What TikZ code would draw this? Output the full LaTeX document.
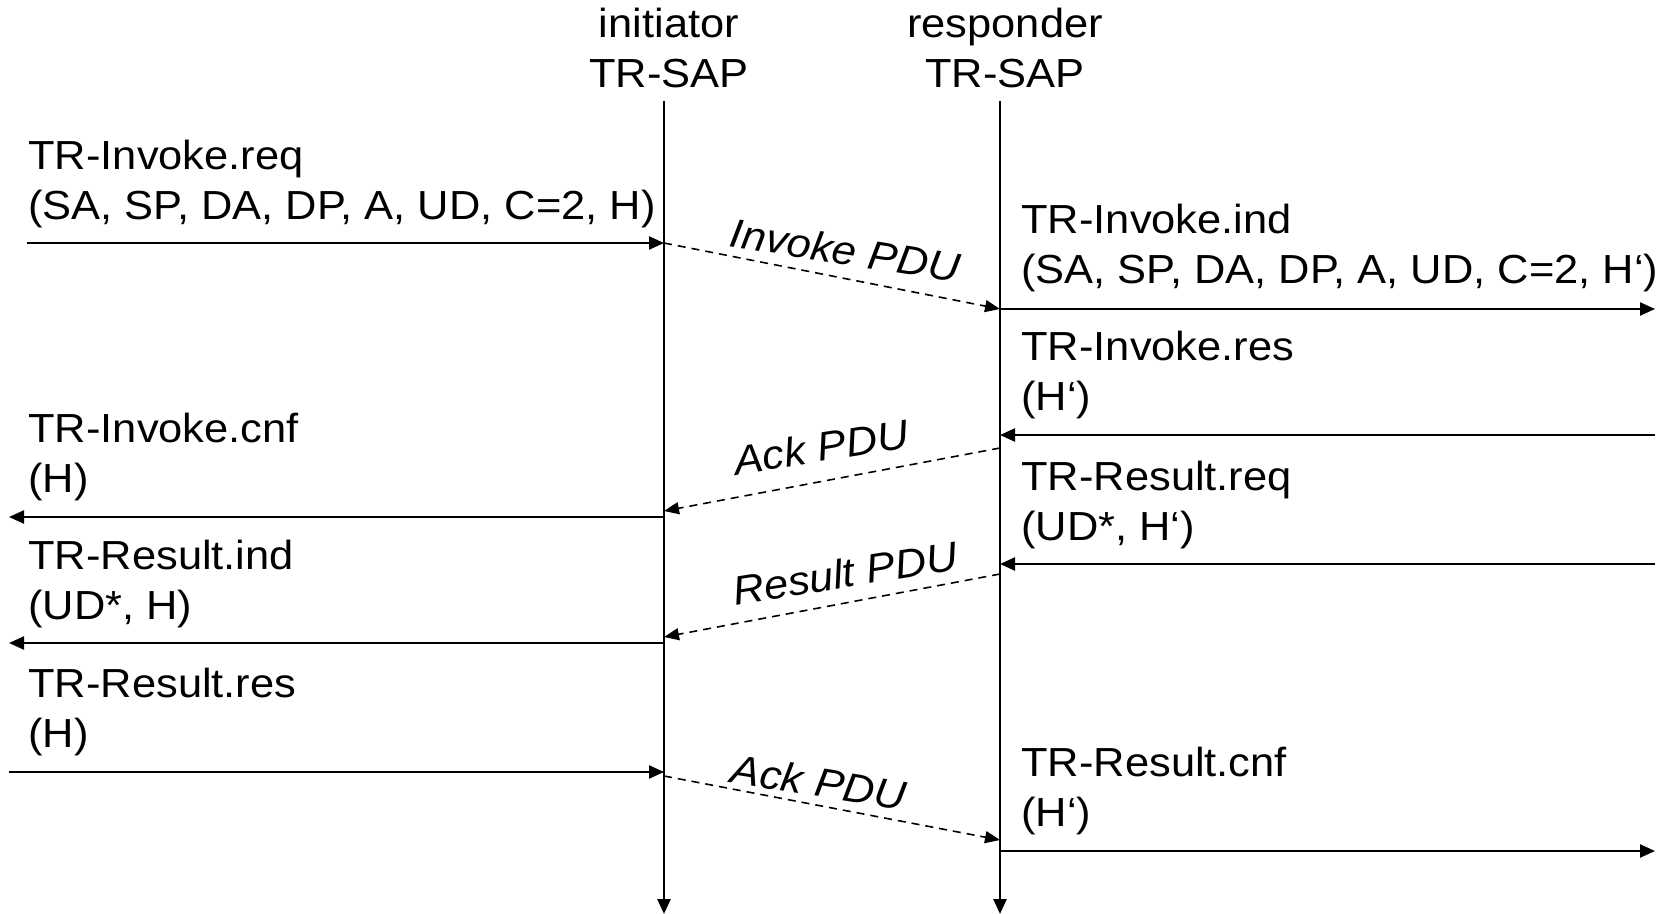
\documentclass[tikz,border=0pt]{standalone}
\usepackage{fontspec}
\setmainfont{Liberation Sans}[FakeStretch=1.07]
\usetikzlibrary{arrows.meta}
\begin{document}
\begin{tikzpicture}[x=0.5pt,y=-0.5pt,
  lbl/.style={inner sep=0pt,anchor=base west,font=\fontsize{20.3}{25}\selectfont,align=left},
  hdr/.style={inner sep=0pt,font=\fontsize{20.3}{25}\selectfont,align=center},
  pdu/.style={inner sep=0pt,font=\fontsize{20.3}{25}\selectfont},
  life/.style={line width=1.4pt,-{Triangle[length=7.5pt,width=6.5pt]}},
  msg/.style={line width=1.15pt,-{Triangle[length=7.5pt,width=6.5pt]}},
  pdul/.style={line width=0.8pt,dash pattern=on 4pt off 3pt,-{Triangle[length=7.5pt,width=6pt]}}]
\useasboundingbox (0,0) rectangle (1663,914);
% headers
\node[hdr,anchor=base] (hini) at (669,88) {initiator\\TR-SAP};
\node[hdr,anchor=base] (hres) at (1005,88) {responder\\TR-SAP};
% lifelines
\coordinate (it) at (664,101);
\coordinate (ib) at (664,914);
\coordinate (rt) at (1000,101);
\coordinate (rb) at (1000,914);
\draw[life] (it) -- (ib);
\draw[life] (rt) -- (rb);
% points
\coordinate (l1) at (27,243);   \coordinate (i1) at (664,243);
\coordinate (r1) at (1000,309); \coordinate (e1) at (1655,309);
\coordinate (e2) at (1655,435); \coordinate (r2) at (1000,435);
\coordinate (r3) at (1000,448); \coordinate (i3) at (664,511);
\coordinate (i4) at (664,517);  \coordinate (l4) at (9,517);
\coordinate (e5) at (1655,564); \coordinate (r5) at (1000,564);
\coordinate (r6) at (1000,574); \coordinate (i6) at (664,637);
\coordinate (i7) at (664,643);  \coordinate (l7) at (9,643);
\coordinate (l8) at (9,772);    \coordinate (i8) at (664,772);
\coordinate (i9) at (664,776);  \coordinate (r9) at (1000,840);
\coordinate (r10) at (1000,851);\coordinate (e10) at (1655,851);
% messages
\draw[msg] (l1) -- (i1);
\draw[pdul] (i1) -- (r1);
\draw[msg] (r1) -- (e1);
\draw[msg] (e2) -- (r2);
\draw[pdul] (r3) -- (i3);
\draw[msg] (i4) -- (l4);
\draw[msg] (e5) -- (r5);
\draw[pdul] (r6) -- (i6);
\draw[msg] (i7) -- (l7);
\draw[msg] (l8) -- (i8);
\draw[pdul] (i9) -- (r9);
\draw[msg] (r10) -- (e10);
% PDU labels
\node[pdu,rotate=-9] (p1) at (845,250) {\itshape Invoke PDU};
\node[pdu,rotate=9] (p2) at (821,447) {\itshape Ack PDU};
\node[pdu,rotate=9] (p3) at (845,573) {\itshape Result PDU};
\node[pdu,rotate=-9] (p4) at (819,782) {\itshape Ack PDU};
% primitive labels
\node[lbl] (t1) at (28,220) {TR-Invoke.req\\(SA, SP, DA, DP, A, UD, C=2, H)};
\node[lbl] (t2) at (1021,284) {TR-Invoke.ind\\(SA, SP, DA, DP, A, UD, C=2, H‘)};
\node[lbl] (t3) at (1021,410) {TR-Invoke.res\\(H‘)};
\node[lbl] (t4) at (28,492) {TR-Invoke.cnf\\(H)};
\node[lbl] (t5) at (1021,540) {TR-Result.req\\(UD*, H‘)};
\node[lbl] (t6) at (28,619) {TR-Result.ind\\(UD*, H)};
\node[lbl] (t7) at (28,747) {TR-Result.res\\(H)};
\node[lbl] (t8) at (1021,826) {TR-Result.cnf\\(H‘)};
\end{tikzpicture}
\end{document}
